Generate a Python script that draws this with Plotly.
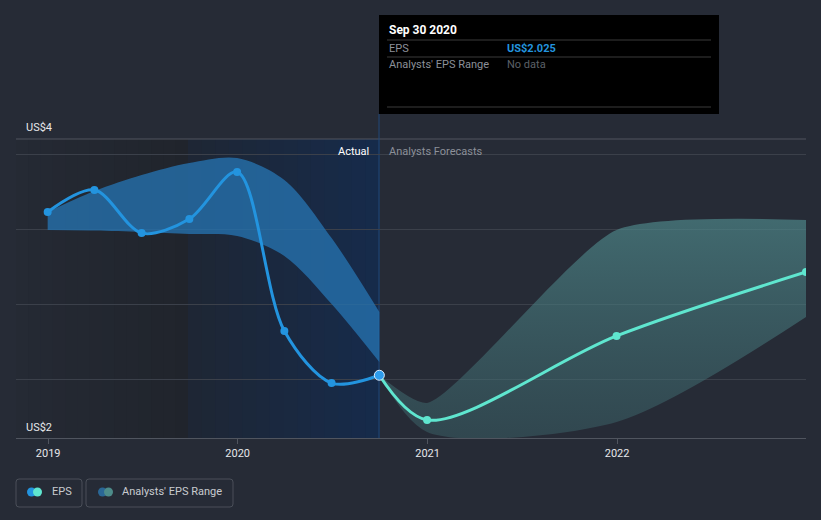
import plotly.graph_objects as go

# ---------------- data ----------------
actual_dates = ["2018-12-31", "2019-03-31", "2019-06-30", "2019-09-30",
                "2019-12-31", "2020-03-31", "2020-06-30", "2020-09-30"]
actual_eps = [3.113, 3.26, 2.973, 3.067, 3.38, 2.32, 1.973, 2.025]

actual_range_upper = [3.113, 3.253, 3.36, 3.44, 3.473, 3.327, 2.94, 2.447]
actual_range_lower = [2.993, 2.99, 2.98, 2.967, 2.953, 2.82, 2.50, 2.113]

fc_dates = ["2020-09-30", "2020-12-31", "2021-12-31", "2022-12-31"]
fc_eps = [2.025, 1.727, 2.287, 2.713]
fc_upper = [2.025, 1.84, 2.993, 3.06]
fc_lower = [2.025, 1.647, 1.713, 2.413]

year_ticks = ["2019-01-01", "2020-01-01", "2021-01-01", "2022-01-01"]
year_labels = ["2019", "2020", "2021", "2022"]
grid_vals = [2.0, 2.5, 3.0, 3.5]

# ---------------- geometry helpers (pixel -> paper) ----------------
W, H = 821, 520
L, R, T, B = 16, 806, 139, 438
def px(x):
    return (x - L) / (R - L)
def py(y):
    return (B - y) / (B - T)

BG = "#262b36"
EPS_BLUE = "#2394df"
TEAL = "#5fe6cf"
FONT = "Roboto, Arial, sans-serif"

fig = go.Figure()

# actual range band
fig.add_trace(go.Scatter(x=actual_dates, y=actual_range_lower, mode="lines",
                         line=dict(width=0, shape="spline", smoothing=0.9),
                         hoverinfo="skip", showlegend=False))
fig.add_trace(go.Scatter(x=actual_dates, y=actual_range_upper, mode="lines",
                         line=dict(width=0, shape="spline", smoothing=0.9),
                         fill="tonexty", fillcolor="rgba(37,112,172,0.8)",
                         hoverinfo="skip", showlegend=False))

# forecast range band
fig.add_trace(go.Scatter(x=fc_dates, y=fc_lower, mode="lines",
                         line=dict(width=0, shape="spline", smoothing=0.8),
                         hoverinfo="skip", showlegend=False))
fig.add_trace(go.Scatter(x=fc_dates, y=fc_upper, mode="lines",
                         line=dict(width=0, shape="spline", smoothing=0.6),
                         fill="tonexty",
                         fillgradient=dict(type="vertical",
                                           colorscale=[[0, "rgba(62,105,110,0.45)"],
                                                       [1, "rgba(80,140,142,0.65)"]]),
                         hoverinfo="skip", showlegend=False))

# forecast line
fig.add_trace(go.Scatter(x=fc_dates, y=fc_eps, mode="lines+markers",
                         line=dict(color=TEAL, width=3, shape="spline", smoothing=0.9),
                         marker=dict(size=8, color=TEAL),
                         hoverinfo="skip", showlegend=False))

# actual EPS line
fig.add_trace(go.Scatter(x=actual_dates, y=actual_eps, mode="lines+markers",
                         line=dict(color=EPS_BLUE, width=3, shape="spline", smoothing=0.9),
                         marker=dict(size=8, color=EPS_BLUE),
                         hoverinfo="skip", showlegend=False))
# highlighted last actual point
fig.add_trace(go.Scatter(x=[actual_dates[-1]], y=[actual_eps[-1]], mode="markers",
                         marker=dict(size=10, color="#2d9cec",
                                     line=dict(color="#dceeff", width=1)),
                         hoverinfo="skip", showlegend=False))

shapes = []
# shaded background regions (gradient via strips)
def strips(x0px, x1px, c0, c1, n=14):
    out = []
    for i in range(n):
        a = x0px + (x1px - x0px) * i / n
        b = x0px + (x1px - x0px) * (i + 1) / n
        t = (i + 0.5) / n
        c = tuple(int(round(c0[k] + (c1[k] - c0[k]) * t)) for k in range(3))
        out.append(dict(type="rect", xref="paper", yref="paper",
                        x0=px(a), x1=px(b) + 0.0008, y0=0, y1=1,
                        fillcolor="rgb(%d,%d,%d)" % c, line=dict(width=0),
                        layer="below"))
    return out
shapes += strips(16, 188, (37, 42, 52), (32, 36, 44))
shapes += strips(188, 379, (30, 38, 52), (22, 43, 75))

# top border line
shapes.append(dict(type="line", xref="paper", yref="paper", x0=0, x1=1, y0=1, y1=1,
                   line=dict(color="#50555f", width=1), layer="below"))
# hover vertical line
shapes.append(dict(type="line", xref="paper", yref="paper", x0=px(379), x1=px(379),
                   y0=0, y1=py(114), line=dict(color="#214878", width=1),
                   layer="below"))
# tooltip box
shapes.append(dict(type="rect", xref="paper", yref="paper", x0=px(379), x1=px(719),
                   y0=py(114), y1=py(15), fillcolor="#000000", line=dict(width=0)))
for yy in (40, 57, 107):
    shapes.append(dict(type="line", xref="paper", yref="paper", x0=px(387), x1=px(711),
                       y0=py(yy), y1=py(yy), line=dict(color="#3a3a3a", width=1)))

# legend boxes (rounded)
def rrect(x0, y0, x1, y1, r=3):
    X = lambda v: px(v)
    Y = lambda v: py(v)
    p = (f"M {X(x0+r)},{Y(y0)} L {X(x1-r)},{Y(y0)} Q {X(x1)},{Y(y0)} {X(x1)},{Y(y0+r)} "
         f"L {X(x1)},{Y(y1-r)} Q {X(x1)},{Y(y1)} {X(x1-r)},{Y(y1)} "
         f"L {X(x0+r)},{Y(y1)} Q {X(x0)},{Y(y1)} {X(x0)},{Y(y1-r)} "
         f"L {X(x0)},{Y(y0+r)} Q {X(x0)},{Y(y0)} {X(x0+r)},{Y(y0)} Z")
    return dict(type="path", xref="paper", yref="paper", path=p,
                line=dict(color="#4a4f59", width=1), fillcolor="rgba(0,0,0,0)")
shapes.append(rrect(16, 479, 82, 507))
shapes.append(rrect(86, 479, 233, 507))

def circ(cx, cy, r, color):
    return dict(type="circle", xref="paper", yref="paper",
                x0=px(cx - r), x1=px(cx + r), y0=py(cy + r), y1=py(cy - r),
                fillcolor=color, line=dict(width=0))
shapes.append(circ(31.5, 492, 4.5, EPS_BLUE))
shapes.append(circ(37.5, 492, 4.5, TEAL))
shapes.append(circ(102.5, 492, 4.5, "#2a6796"))
shapes.append(circ(108.5, 492, 4.5, "#4d8c8a"))

annotations = []
def txt(x, y, s, color, size=11, anchor="left", bold=False):
    if bold:
        s = "<b>" + s + "</b>"
    annotations.append(dict(xref="paper", yref="paper", x=px(x), y=py(y), text=s,
                            showarrow=False, xanchor=anchor, yanchor="middle",
                            font=dict(family=FONT, size=size, color=color)))

txt(387, 30, "Sep 30 2020", "#ffffff", 12, bold=True)
txt(387, 48, "EPS", "#8c9099")
txt(505, 48, "US$2.025", "#2394df", 11, bold=True)
txt(387, 65, "Analysts' EPS Range", "#8c9099")
txt(505, 65, "No data", "#5c6068")

txt(371, 151, "Actual", "#ffffff", 11, anchor="right")
txt(387, 151, "Analysts Forecasts", "#8c9099")

txt(24, 127, "US$4", "#e6e8eb", 11)
txt(24, 427, "US$2", "#e6e8eb", 11)

txt(50, 492, "EPS", "#c8cbd0", 11)
txt(120, 492, "Analysts' EPS Range", "#c8cbd0", 11)

fig.update_layout(
    width=W, height=H,
    margin=dict(l=L, r=W - R, t=T, b=H - B),
    paper_bgcolor=BG, plot_bgcolor=BG,
    shapes=shapes, annotations=annotations,
    showlegend=False,
    font=dict(family=FONT, color="#e6e8eb"),
    xaxis=dict(type="date", range=["2018-10-31", "2022-12-31"],
               tickvals=year_ticks, ticktext=year_labels,
               showgrid=False, zeroline=False,
               showline=True, linecolor="#50555f", linewidth=1,
               ticks="outside", ticklen=5, tickcolor="#50555f",
               tickfont=dict(family=FONT, size=11, color="#e6e8eb"),
               fixedrange=True),
    yaxis=dict(range=[2 - 59 / 150, 3.6], tickvals=grid_vals,
               showticklabels=False, showgrid=True, gridcolor="#3b404a",
               gridwidth=1, zeroline=False, showline=False, fixedrange=True),
)

fig.write_html("out.html")
